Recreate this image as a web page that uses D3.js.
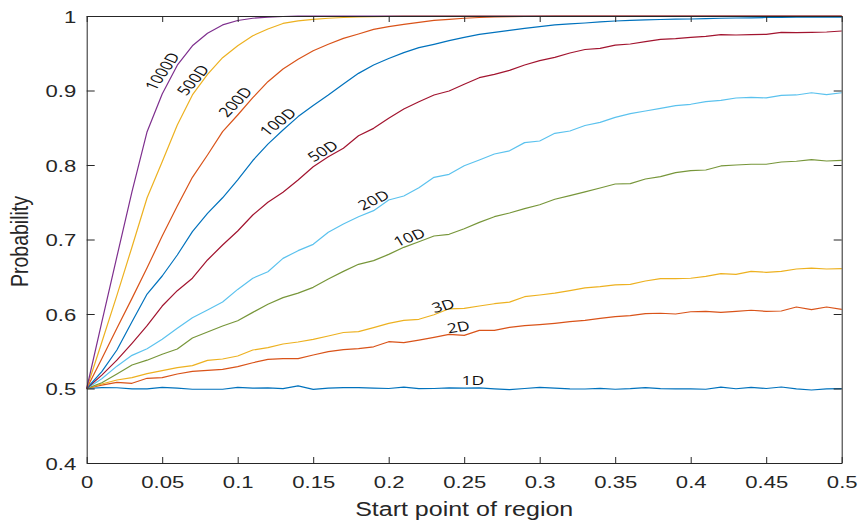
<!DOCTYPE html>
<html>
<head>
<meta charset="utf-8">
<script src="https://cdn.jsdelivr.net/npm/d3@7"></script>
<style>
  html, body { margin: 0; padding: 0; background: #fff; }
  svg { display: block; }
</style>
</head>
<body>
<svg id="chart" width="858" height="523"></svg>
<script>
// start points 0, 0.01, ... 0.5
const startPoints = d3.range(51).map(i => i / 100);

const names = ['1D', '2D', '3D', '10D', '20D', '50D', '100D', '200D', '500D', '1000D'];
const colors = ['#0072BD', '#D95319', '#EDB120', '#77963A', '#5BC2EE', '#A2142F', '#0072BD', '#D95319', '#EDB120', '#7E2F8E'];

const p1D = [0.5, 0.5012, 0.501, 0.4995, 0.4995, 0.5015, 0.5005, 0.499, 0.499, 0.499,
  0.5015, 0.5005, 0.5008, 0.4998, 0.5035, 0.4988, 0.5005, 0.5012, 0.5012, 0.5005,
  0.5, 0.5018, 0.4998, 0.5, 0.5008, 0.5005, 0.5008, 0.4995, 0.4985, 0.5,
  0.5015, 0.5005, 0.4995, 0.4993, 0.5002, 0.499, 0.4998, 0.5013, 0.4998, 0.4995,
  0.4995, 0.499, 0.5018, 0.4997, 0.5015, 0.5, 0.502, 0.4995, 0.498, 0.4995, 0.4998];
const p2D = [0.5, 0.5045, 0.5083, 0.507, 0.5137, 0.5145, 0.5195, 0.523, 0.5244, 0.5257,
  0.5293, 0.5346, 0.539, 0.54, 0.54, 0.545, 0.5494, 0.5522, 0.5535, 0.556,
  0.5628, 0.5615, 0.565, 0.5687, 0.5727, 0.5714, 0.578, 0.578, 0.582, 0.5843,
  0.5857, 0.5875, 0.5897, 0.5915, 0.594, 0.5964, 0.5977, 0.6004, 0.601, 0.6,
  0.603, 0.6036, 0.6023, 0.6036, 0.605, 0.6036, 0.604, 0.6094, 0.6058, 0.6094, 0.6063];
const p3D = [0.5, 0.506, 0.5114, 0.5145, 0.52, 0.524, 0.528, 0.5307, 0.5378, 0.5396,
  0.5436, 0.5517, 0.5548, 0.5597, 0.5624, 0.566, 0.5705, 0.5752, 0.5763, 0.5817,
  0.5875, 0.5915, 0.5929, 0.599, 0.607, 0.6076, 0.6107, 0.6138, 0.616, 0.6232,
  0.6255, 0.628, 0.6313, 0.635, 0.6367, 0.639, 0.6398, 0.6443, 0.6474, 0.6474,
  0.648, 0.6506, 0.6541, 0.6533, 0.6573, 0.656, 0.6573, 0.6604, 0.6617, 0.6604, 0.6608];
const p10D = [0.5, 0.5078, 0.5195, 0.5315, 0.538, 0.5459, 0.553, 0.5678, 0.5758, 0.5839,
  0.591, 0.6022, 0.613, 0.622, 0.628, 0.6358, 0.647, 0.6572, 0.6667, 0.6716,
  0.68, 0.6895, 0.697, 0.7047, 0.707, 0.7145, 0.723, 0.7306, 0.7356, 0.7414,
  0.7467, 0.754, 0.7588, 0.764, 0.7691, 0.7745, 0.775, 0.7812, 0.7843, 0.7897,
  0.7924, 0.7933, 0.7987, 0.8, 0.801, 0.801, 0.804, 0.805, 0.8071, 0.8054, 0.8063];
const p20D = [0.5, 0.513, 0.53, 0.5445, 0.5534, 0.566, 0.5808, 0.595, 0.6054, 0.616,
  0.633, 0.648, 0.6568, 0.6747, 0.685, 0.6935, 0.7097, 0.7208, 0.7306, 0.7387,
  0.753, 0.7584, 0.7695, 0.7835, 0.7875, 0.799, 0.8067, 0.8148, 0.819, 0.83,
  0.8322, 0.8425, 0.8456, 0.853, 0.8573, 0.864, 0.8689, 0.8725, 0.8761, 0.8796,
  0.8815, 0.885, 0.8868, 0.8899, 0.8909, 0.89, 0.8935, 0.894, 0.897, 0.8944, 0.897];
const p50D = [0.5, 0.518, 0.538, 0.5607, 0.5843, 0.6107, 0.6313, 0.648, 0.6725, 0.6926,
  0.7114, 0.7329, 0.75, 0.7634, 0.7799, 0.7977, 0.8111, 0.8226, 0.8393, 0.8492,
  0.8627, 0.8752, 0.885, 0.894, 0.8993, 0.9083, 0.9172, 0.9217, 0.9271, 0.9342,
  0.94, 0.9445, 0.9503, 0.955, 0.9566, 0.961, 0.9624, 0.9655, 0.9687, 0.9695,
  0.9714, 0.9727, 0.9749, 0.9745, 0.9749, 0.9754, 0.978, 0.9776, 0.978, 0.9785, 0.9799];
const p100D = [0.5, 0.5226, 0.5517, 0.5897, 0.6268, 0.651, 0.6792, 0.7105, 0.735, 0.756,
  0.78, 0.806, 0.828, 0.847, 0.865, 0.88, 0.894, 0.9087, 0.923, 0.9342,
  0.943, 0.9508, 0.9575, 0.962, 0.9669, 0.9714, 0.9754, 0.978, 0.9808, 0.9834,
  0.9857, 0.988, 0.9893, 0.9906, 0.992, 0.9933, 0.994, 0.9947, 0.9953, 0.9957,
  0.996, 0.9965, 0.997, 0.9973, 0.9976, 0.998, 0.9981, 0.9983, 0.9984, 0.9985, 0.9986];
const p200D = [0.5, 0.54, 0.581, 0.621, 0.662, 0.7047, 0.745, 0.7835, 0.8134, 0.8447,
  0.8671, 0.8904, 0.9118, 0.9289, 0.9419, 0.9534, 0.962, 0.97, 0.9758, 0.982,
  0.9857, 0.9888, 0.9915, 0.994, 0.9955, 0.997, 0.998, 0.9987, 0.999, 0.9993,
  0.9995, 0.9997, 0.9998, 0.9999, 1, 1, 1, 1, 1, 1,
  1, 1, 1, 1, 1, 1, 1, 1, 1, 1, 1];
const p500D = [0.5, 0.562, 0.625, 0.69, 0.756, 0.8044, 0.8537, 0.894, 0.9217, 0.944,
  0.96, 0.9735, 0.9825, 0.99, 0.9935, 0.9955, 0.997, 0.998, 0.9987, 0.9992,
  0.9995, 0.9997, 0.9998, 0.9999, 1, 1, 1, 1, 1, 1,
  1, 1, 1, 1, 1, 1, 1, 1, 1, 1,
  1, 1, 1, 1, 1, 1, 1, 1, 1, 1, 1];
const p1000D = [0.5, 0.589, 0.677, 0.7642, 0.8447, 0.8953, 0.934, 0.96, 0.9768, 0.988,
  0.994, 0.997, 0.9985, 0.9993, 0.9997, 0.9999, 1, 1, 1, 1,
  1, 1, 1, 1, 1, 1, 1, 1, 1, 1,
  1, 1, 1, 1, 1, 1, 1, 1, 1, 1,
  1, 1, 1, 1, 1, 1, 1, 1, 1, 1, 1];

const series = [p1D, p2D, p3D, p10D, p20D, p50D, p100D, p200D, p500D, p1000D];

// where each curve label sits (data units) and its on-screen slope in degrees
const labelX = [0.2558, 0.2461, 0.236, 0.2135, 0.1898, 0.1562, 0.1264, 0.0982, 0.0701, 0.0497];
const labelY = [0.5114, 0.583, 0.6114, 0.7034, 0.7534, 0.8191, 0.8581, 0.885, 0.9141, 0.9259];
const labelAngle = [0, 9, 14, 20, 25, 30, 37, 45, 49, 55];

const xTicks = [0, 0.05, 0.1, 0.15, 0.2, 0.25, 0.3, 0.35, 0.4, 0.45, 0.5];
const xTickLabels = ['0', '0.05', '0.1', '0.15', '0.2', '0.25', '0.3', '0.35', '0.4', '0.45', '0.5'];
const yTicks = [0.4, 0.5, 0.6, 0.7, 0.8, 0.9, 1];
const yTickLabels = ['0.4', '0.5', '0.6', '0.7', '0.8', '0.9', '1'];

// the picture is stretched sideways, so text gets the same stretch
const stretch = 1.3;
const axisColor = '#262626';

const svg = d3.select('#chart');
const plotLeft = 86.7, plotRight = 841.7, plotTop = 16, plotBottom = 463;

const x = d3.scaleLinear().domain([0, 0.5]).range([plotLeft, plotRight]);
const y = d3.scaleLinear().domain([0.4, 1]).range([plotBottom, plotTop]);

// curves
const line = d3.line()
    .x((d, i) => x(startPoints[i]))
    .y(d => y(d));

svg.append('g')
    .selectAll('path')
    .data(series)
    .join('path')
    .attr('d', line)
    .attr('fill', 'none')
    .attr('stroke', (d, i) => colors[i])
    .attr('stroke-width', 1.2)
    .attr('stroke-linejoin', 'round');

// box with inward ticks on all sides
function styleAxis(g) {
    g.select('.domain').attr('stroke', axisColor).attr('stroke-width', 1);
    g.selectAll('.tick line').attr('stroke', axisColor).attr('stroke-width', 1);
}

svg.append('g')
    .attr('transform', `translate(0,${plotBottom})`)
    .call(d3.axisBottom(x).tickValues(xTicks).tickSizeInner(-6).tickSizeOuter(0)
        .tickFormat((d, i) => xTickLabels[i]))
    .call(styleAxis)
    .call(g => g.selectAll('.tick text')
        .attr('y', 0).attr('dy', null)
        .attr('transform', `translate(0,25) scale(${stretch},1)`)
        .attr('font-family', '"Liberation Sans", Arial, sans-serif')
        .attr('font-size', 17)
        .attr('fill', axisColor));

svg.append('g')
    .attr('transform', `translate(0,${plotTop})`)
    .call(d3.axisTop(x).tickValues(xTicks).tickSizeInner(-6).tickSizeOuter(0).tickFormat(''))
    .call(styleAxis);

svg.append('g')
    .attr('transform', `translate(${plotLeft},0)`)
    .call(d3.axisLeft(y).tickValues(yTicks).tickSizeInner(-8).tickSizeOuter(0)
        .tickFormat((d, i) => yTickLabels[i]))
    .call(styleAxis)
    .call(g => g.selectAll('.tick text')
        .attr('x', 0).attr('dy', null)
        .attr('transform', `translate(-10.5,6) scale(${stretch},1)`)
        .attr('text-anchor', 'end')
        .attr('font-family', '"Liberation Sans", Arial, sans-serif')
        .attr('font-size', 17)
        .attr('fill', axisColor));

svg.append('g')
    .attr('transform', `translate(${plotRight},0)`)
    .call(d3.axisRight(y).tickValues(yTicks).tickSizeInner(-8).tickSizeOuter(0).tickFormat(''))
    .call(styleAxis);

// axis titles
svg.append('text')
    .attr('transform', `translate(${(plotLeft + plotRight) / 2},516) scale(1.25,1)`)
    .attr('text-anchor', 'middle')
    .attr('font-family', '"Liberation Sans", Arial, sans-serif')
    .attr('font-size', 20)
    .attr('fill', axisColor)
    .text('Start point of region');

svg.append('text')
    .attr('transform', `translate(28,${(plotTop + plotBottom) / 2 + 2}) scale(1.25,1) rotate(-90)`)
    .attr('text-anchor', 'middle')
    .attr('font-family', '"Liberation Sans", Arial, sans-serif')
    .attr('font-size', 19.5)
    .attr('fill', axisColor)
    .text('Probability');

// curve labels
svg.append('g')
    .selectAll('text')
    .data(names)
    .join('text')
    .attr('transform', (d, i) => {
        const a = Math.atan(stretch * Math.tan(labelAngle[i] * Math.PI / 180)) * 180 / Math.PI;
        return `translate(${x(labelX[i])},${y(labelY[i])}) scale(${stretch},1) rotate(${-a})`;
    })
    .attr('text-anchor', 'middle')
    .attr('dominant-baseline', 'central')
    .attr('font-family', '"Open Sans", sans-serif')
    .attr('font-size', 13.5)
    .attr('fill', '#111')
    .text(d => d);
</script>
</body>
</html>
